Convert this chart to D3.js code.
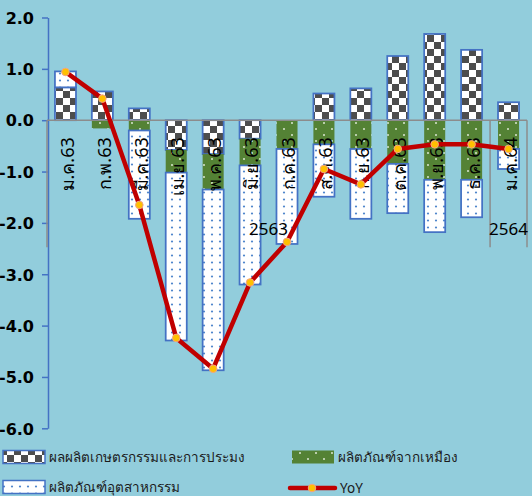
<!DOCTYPE html>
<html>
<head>
<meta charset="utf-8">
<script src="https://cdn.jsdelivr.net/npm/d3@7"></script>
<style>
  body { margin: 0; background: #92cddc; }
  svg { display: block; font-family: Tahoma, "Noto Sans", "DejaVu Sans", sans-serif; }
</style>
</head>
<body>
<svg id="chart" width="532" height="496" viewBox="0 0 532 496"></svg>
<script>
const MONTHS = ["ม.ค.63", "ก.พ.63", "มี.ค.63", "เม.ย.63", "พ.ค.63", "มิ.ย.63", "ก.ค.63",
  "ส.ค.63", "ก.ย.63", "ต.ค.63", "พ.ย.63", "ธ.ค.63", "ม.ค.64"];
const YEAR_LABELS = ["2563", "2564"];
const YEAR_SPANS = [12, 1];

const AGRICULTURE = [0.64, 0.56, 0.23, -0.58, -0.66, -0.36, 0, 0.52, 0.62, 1.25, 1.68, 1.37, 0.35];
const MINING = [0, -0.16, -0.20, -0.44, -0.69, -0.52, -0.56, -0.47, -0.56, -0.85, -1.16, -1.16, -0.56];
const INDUSTRY = [0.31, 0, -1.72, -3.27, -3.52, -2.32, -1.85, -1.02, -1.36, -0.96, -1.02, -0.73, -0.39];
const YOY = [0.94, 0.42, -1.65, -4.24, -4.84, -3.16, -2.37, -0.95, -1.25, -0.56, -0.47, -0.47, -0.56];

const Y_TICKS = [2, 1, 0, -1, -2, -3, -4, -5, -6];
const SERIES_NAMES = ["ผลผลิตเกษตรกรรมและการประมง", "ผลิตภัณฑ์จากเหมือง", "ผลิตภัณฑ์อุตสาหกรรม", "YoY"];

const BLUE = "#4472c4";
const GRAY = "#8c8c8c";

function addPatterns(defs) {
  const checker = defs.append("pattern")
    .attr("id", "checker")
    .attr("patternUnits", "userSpaceOnUse")
    .attr("width", 14)
    .attr("height", 14);
  checker.append("rect").attr("width", 14).attr("height", 14).attr("fill", "#ffffff");
  checker.append("rect").attr("width", 7).attr("height", 7).attr("fill", "#4d4d4d");
  checker.append("rect").attr("x", 7).attr("y", 7).attr("width", 7).attr("height", 7).attr("fill", "#4d4d4d");

  const dots = defs.append("pattern")
    .attr("id", "dots")
    .attr("patternUnits", "userSpaceOnUse")
    .attr("width", 8)
    .attr("height", 7);
  dots.append("rect").attr("width", 8).attr("height", 7).attr("fill", "#ffffff");
  dots.append("circle").attr("cx", 4).attr("cy", 3.5).attr("r", 1.1).attr("fill", "#4f86cc");

  const green = defs.append("pattern")
    .attr("id", "green")
    .attr("patternUnits", "userSpaceOnUse")
    .attr("width", 16)
    .attr("height", 12);
  green.append("rect").attr("width", 16).attr("height", 12).attr("fill", "#548235");
  green.append("circle").attr("cx", 4).attr("cy", 3).attr("r", 1).attr("fill", "#dbe7d2");
  green.append("circle").attr("cx", 12).attr("cy", 9).attr("r", 1).attr("fill", "#dbe7d2");
}

function renderChart(svg) {
  const root = d3.select(svg);
  root.selectAll("*").remove();
  addPatterns(root.append("defs"));

  const margin = { top: 17.5, right: 5, bottom: 67.7, left: 47 };
  const width = 532;
  const height = 496;

  const xScale = d3.scaleBand()
    .domain(MONTHS)
    .range([margin.left, width - margin.right])
    .paddingInner(0.43)
    .paddingOuter(0.215);
  const yScale = d3.scaleLinear()
    .domain([-6, 2])
    .range([height - margin.bottom, margin.top]);

  const rows = MONTHS.map((month, index) => ({
    month,
    agriculture: AGRICULTURE[index],
    mining: MINING[index],
    industry: INDUSTRY[index]
  }));
  const keys = ["agriculture", "mining", "industry"];
  const fills = { agriculture: "url(#checker)", mining: "url(#green)", industry: "url(#dots)" };
  const strokes = { agriculture: BLUE, mining: "none", industry: BLUE };
  const stacked = d3.stack().keys(keys).offset(d3.stackOffsetDiverging)(rows);

  // y axis
  const axis = root.append("g")
    .attr("class", "axis-y")
    .attr("transform", `translate(${margin.left + 1}, 0)`)
    .call(d3.axisLeft(yScale)
      .tickValues(Y_TICKS)
      .tickFormat(d3.format(".1f"))
      .tickSize(6)
      .tickSizeOuter(0));
  axis.select(".domain").attr("stroke", BLUE).attr("stroke-width", 1.5);
  axis.selectAll(".tick line").attr("stroke", BLUE).attr("stroke-width", 1.5);
  axis.selectAll(".tick text")
    .attr("x", -14)
    .attr("dy", "0.36em")
    .attr("fill", "#000")
    .attr("font-size", 16)
    .attr("font-weight", "bold")
    .attr("font-family", "Tahoma, 'DejaVu Sans', sans-serif")
    .text(value => d3.format(".1f")(value).replace("−", "-"));

  root.append("g")
    .selectAll("g")
    .data(stacked)
    .join("g")
    .attr("fill", layer => fills[layer.key])
    .attr("stroke", layer => strokes[layer.key])
    .attr("stroke-width", 1.75)
    .selectAll("rect")
    .data(layer => layer.filter(segment => segment[1] !== segment[0]))
    .join("rect")
    .attr("x", segment => xScale(segment.data.month))
    .attr("width", xScale.bandwidth())
    .attr("y", segment => yScale(segment[1]))
    .attr("height", segment => yScale(segment[0]) - yScale(segment[1]));

  // zero line and year separators
  const zeroY = yScale(0);
  root.append("line")
    .attr("x1", margin.left)
    .attr("x2", width - margin.right)
    .attr("y1", zeroY)
    .attr("y2", zeroY)
    .attr("stroke", GRAY)
    .attr("stroke-width", 1.5);

  const step = xScale.step();
  const yearEdges = [0];
  YEAR_SPANS.forEach(span => yearEdges.push(yearEdges[yearEdges.length - 1] + span));
  root.append("g")
    .selectAll("line")
    .data(yearEdges)
    .join("line")
    .attr("x1", edge => margin.left + edge * step)
    .attr("x2", edge => margin.left + edge * step)
    .attr("y1", zeroY)
    .attr("y2", zeroY + 127)
    .attr("stroke", GRAY)
    .attr("stroke-width", 1.5);

  root.append("g")
    .selectAll("text")
    .data(MONTHS)
    .join("text")
    .attr("transform", month => `translate(${xScale(month) + xScale.bandwidth() / 2 + 1}, ${zeroY + 17}) rotate(-90)`)
    .attr("dy", "0.4em")
    .attr("text-anchor", "end")
    .attr("font-size", 18)
    .attr("fill", "#000")
    .text(month => month);

  root.append("g")
    .selectAll("text")
    .data(YEAR_LABELS)
    .join("text")
    .attr("x", (_label, index) => margin.left + (yearEdges[index] + yearEdges[index + 1]) / 2 * step)
    .attr("y", zeroY + 115)
    .attr("text-anchor", "middle")
    .attr("font-size", 17)
    .attr("fill", "#000")
    .text(label => label);

  // YoY line
  const line = d3.line()
    .x((_value, index) => xScale(MONTHS[index]) + xScale.bandwidth() / 2)
    .y(value => yScale(value));
  root.append("path")
    .attr("d", line(YOY))
    .attr("fill", "none")
    .attr("stroke", "#c00000")
    .attr("stroke-width", 4.5)
    .attr("stroke-linejoin", "round");
  root.append("g")
    .selectAll("circle")
    .data(YOY)
    .join("circle")
    .attr("cx", (_value, index) => xScale(MONTHS[index]) + xScale.bandwidth() / 2)
    .attr("cy", value => yScale(value))
    .attr("r", 3.8)
    .attr("fill", "#ffc000")
    .attr("stroke", "#f4a582")
    .attr("stroke-width", 1);

  renderLegend(root);
}

function renderLegend(root) {
  const items = [
    { name: SERIES_NAMES[0], kind: "checker", x: 3, y: 457 },
    { name: SERIES_NAMES[1], kind: "green", x: 292, y: 457 },
    { name: SERIES_NAMES[2], kind: "dots", x: 3, y: 487 },
    { name: SERIES_NAMES[3], kind: "line", x: 290, y: 488 }
  ];
  const legend = root.append("g").attr("class", "legend");

  for (const item of items) {
    if (item.kind === "line") {
      legend.append("line")
        .attr("x1", item.x)
        .attr("x2", item.x + 45)
        .attr("y1", item.y)
        .attr("y2", item.y)
        .attr("stroke", "#c00000")
        .attr("stroke-width", 4.5)
        .attr("stroke-linecap", "round");
      legend.append("circle")
        .attr("cx", item.x + 22)
        .attr("cy", item.y)
        .attr("r", 3.8)
        .attr("fill", "#ffc000")
        .attr("stroke", "#f4a582");
    } else {
      legend.append("rect")
        .attr("x", item.x)
        .attr("y", item.y - 6.5)
        .attr("width", 42)
        .attr("height", 13)
        .attr("fill", `url(#${item.kind})`)
        .attr("stroke", item.kind === "green" ? "none" : BLUE)
        .attr("stroke-width", 1.5);
    }
    legend.append("text")
      .attr("x", item.x + (item.kind === "line" ? 50 : 46))
      .attr("y", item.y)
      .attr("dy", "0.35em")
      .attr("font-size", 13.5)
      .attr("fill", "#1a1a1a")
      .text(item.name);
  }
}

renderChart(document.getElementById("chart"));
</script>
</body>
</html>
